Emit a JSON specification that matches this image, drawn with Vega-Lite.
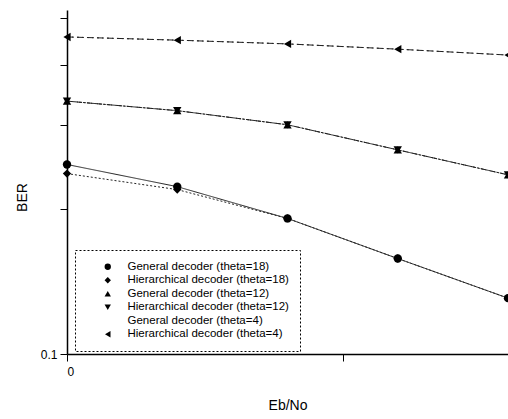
{
  "$schema": "https://vega.github.io/schema/vega-lite/v6.json",
  "width": 441,
  "height": 344,
  "autosize": "none",
  "padding": {"left": 67, "top": 10, "right": 0, "bottom": 65},
  "background": "white",
  "config": {
    "view": {"stroke": null},
    "font": "Liberation Sans",
    "axis": {"grid": false, "domainColor": "black", "tickColor": "black", "labelColor": "black", "titleColor": "black", "labelFont": "Liberation Sans", "titleFont": "Liberation Sans", "titleFontWeight": "normal", "domainWidth": 1.5},
    "legend": {
      "title": null, "orient": "none", "legendX": 8, "legendY": 240,
      "strokeColor": "black", "strokeDash": [2, 2], "padding": 11,
      "symbolOffset": 16, "labelOffset": 14, "symbolSize": 40,
      "symbolFillColor": "black", "symbolStrokeColor": "#333", "symbolStrokeWidth": 1,
      "labelFontSize": 11.5, "labelFont": "Liberation Sans", "labelColor": "black",
      "rowPadding": 0.5, "labelLimit": 300
    }
  },
  "data": {
    "values": [
      {"series": "General decoder (theta=18)", "ebno": 0, "ber": 0.248},
      {"series": "General decoder (theta=18)", "ebno": 1, "ber": 0.223},
      {"series": "General decoder (theta=18)", "ebno": 2, "ber": 0.1915},
      {"series": "General decoder (theta=18)", "ebno": 3, "ber": 0.158},
      {"series": "General decoder (theta=18)", "ebno": 4, "ber": 0.1307},
      {"series": "Hierarchical decoder (theta=18)", "ebno": 0, "ber": 0.2374},
      {"series": "Hierarchical decoder (theta=18)", "ebno": 1, "ber": 0.2199},
      {"series": "Hierarchical decoder (theta=18)", "ebno": 2, "ber": 0.1915},
      {"series": "Hierarchical decoder (theta=18)", "ebno": 3, "ber": 0.158},
      {"series": "Hierarchical decoder (theta=18)", "ebno": 4, "ber": 0.1307},
      {"series": "General decoder (theta=12)", "ebno": 0, "ber": 0.336},
      {"series": "General decoder (theta=12)", "ebno": 1, "ber": 0.321},
      {"series": "General decoder (theta=12)", "ebno": 2, "ber": 0.300},
      {"series": "General decoder (theta=12)", "ebno": 3, "ber": 0.266},
      {"series": "General decoder (theta=12)", "ebno": 4, "ber": 0.236},
      {"series": "Hierarchical decoder (theta=12)", "ebno": 0, "ber": 0.336},
      {"series": "Hierarchical decoder (theta=12)", "ebno": 1, "ber": 0.321},
      {"series": "Hierarchical decoder (theta=12)", "ebno": 2, "ber": 0.300},
      {"series": "Hierarchical decoder (theta=12)", "ebno": 3, "ber": 0.266},
      {"series": "Hierarchical decoder (theta=12)", "ebno": 4, "ber": 0.236},
      {"series": "General decoder (theta=4)", "ebno": 0, "ber": 0.457},
      {"series": "General decoder (theta=4)", "ebno": 1, "ber": 0.450},
      {"series": "General decoder (theta=4)", "ebno": 2, "ber": 0.442},
      {"series": "General decoder (theta=4)", "ebno": 3, "ber": 0.431},
      {"series": "General decoder (theta=4)", "ebno": 4, "ber": 0.419},
      {"series": "Hierarchical decoder (theta=4)", "ebno": 0, "ber": 0.457},
      {"series": "Hierarchical decoder (theta=4)", "ebno": 1, "ber": 0.450},
      {"series": "Hierarchical decoder (theta=4)", "ebno": 2, "ber": 0.442},
      {"series": "Hierarchical decoder (theta=4)", "ebno": 3, "ber": 0.431},
      {"series": "Hierarchical decoder (theta=4)", "ebno": 4, "ber": 0.419}
    ]
  },
  "encoding": {
    "x": {
      "field": "ebno", "type": "quantitative",
      "scale": {"domain": [0, 4], "nice": false, "zero": false},
      "axis": {"title": "Eb/No", "values": [0, 2.5], "labelExpr": "datum.value == 0 ? '0' : ''", "tickSize": 7, "labelFontSize": 12, "labelPadding": 5, "titleFontSize": 14, "titleY": 44, "titleBaseline": "top"}
    },
    "y": {
      "field": "ber", "type": "quantitative",
      "scale": {"type": "log", "domain": [0.1, 0.52], "nice": false},
      "axis": {"title": "BER", "values": [0.1, 0.2, 0.3, 0.4, 0.5], "labelExpr": "datum.value == 0.1 ? '0.1' : ''", "tickSize": 7, "labelFontSize": 12, "labelPadding": 3, "titleFontSize": 14, "titleX": -45, "titleY": 187, "titleAngle": -90, "titleAlign": "center", "titleBaseline": "middle"}
    }
  },
  "layer": [
    {
      "mark": {"type": "line", "strokeWidth": 1, "color": "#222"},
      "encoding": {
        "detail": {"field": "series"},
        "strokeDash": {
          "field": "series", "type": "nominal",
          "scale": {
            "domain": ["General decoder (theta=18)", "Hierarchical decoder (theta=18)", "General decoder (theta=12)", "Hierarchical decoder (theta=12)", "General decoder (theta=4)", "Hierarchical decoder (theta=4)"],
            "range": [[1, 0], [2, 2], [5, 2, 1, 2], [3, 1], [6, 4], [2, 3]]
          }
        }
      }
    },
    {
      "mark": {"type": "point", "filled": true, "color": "black", "opacity": 1, "size": 70},
      "encoding": {
        "shape": {
          "field": "series", "type": "nominal",
          "scale": {
            "domain": ["General decoder (theta=18)", "Hierarchical decoder (theta=18)", "General decoder (theta=12)", "Hierarchical decoder (theta=12)", "General decoder (theta=4)", "Hierarchical decoder (theta=4)"],
            "range": ["circle", "diamond", "triangle-up", "triangle-down", "M-0.4,-0.5L0.4,0.5", "triangle-left"]
          }
        }
      }
    }
  ]
}
